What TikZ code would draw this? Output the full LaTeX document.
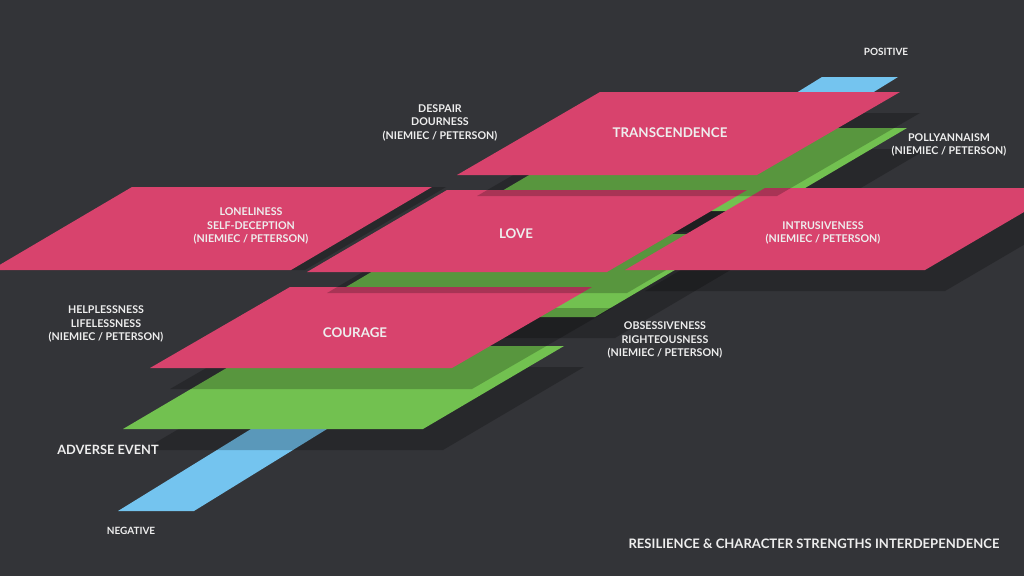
\documentclass[tikz,border=0pt]{standalone}
\usepackage{fontspec}
\setmainfont{Lato}
\definecolor{rsBack}{HTML}{333438}
\definecolor{rsPink}{HTML}{D8436D}
\definecolor{rsGreen}{HTML}{72C150}
\definecolor{rsBlue}{HTML}{74C4EF}
\definecolor{rsText}{HTML}{EEEEEE}
\tikzset{
  rsSlab/.style={
    draw=none
  },
  rsPinkSlab/.style={
    rsSlab,
    fill=rsPink
  },
  rsGreenSlab/.style={
    rsSlab,
    fill=rsGreen
  },
  rsAxisSlab/.style={
    rsSlab,
    fill=rsBlue
  },
  rsShadow/.style={
    fill=black,
    fill opacity=0.22,
    shift={(20,21)}
  },
  rsName/.style={
    text=rsText,
    inner sep=0pt,
    font=\bfseries\fontsize{10}{12}\selectfont
  },
  rsNote/.style={
    text=rsText,
    inner sep=0pt,
    align=center,
    font=\bfseries\fontsize{8}{10.1}\selectfont
  },
  rsPole/.style={
    rsNote,
    font=\bfseries\fontsize{7.5}{9}\selectfont
  }
}
% slab: style, bottom-left x, bottom y, width, top y, horizontal run
\newcommand{\rsSlab}[6]{%
  \fill[#1] (#2,#3) -- ++(#4,0) -- ++(#6,{#5-#3}) -- ++(-#4,0) -- cycle;}

\begin{document}
\begin{tikzpicture}[x=0.75pt, y=-0.75pt]
  \useasboundingbox (0,0) rectangle (1024,576);
  \clip (0,0) rectangle (1024,576);
  \fill[rsBack] (0,0) rectangle (1024,576);

  % axis from negative to positive
  \rsSlab{rsAxisSlab}{118}{511}{76}{77}{704}

  % green levels
  \rsSlab{rsShadow}{123}{429}{300}{346}{141}
  \rsSlab{rsGreenSlab}{123}{429}{300}{346}{141}
  \rsSlab{rsShadow}{295}{317}{300}{234}{141}
  \rsSlab{rsGreenSlab}{295}{317}{300}{234}{141}
  \rsSlab{rsShadow}{468}{211}{298}{128}{141}
  \rsSlab{rsGreenSlab}{468}{211}{298}{128}{141}

  % strengths
  \rsSlab{rsShadow}{150}{368}{302}{287}{140}
  \rsSlab{rsPinkSlab}{150}{368}{302}{287}{140}
  \rsSlab{rsShadow, shift={(-6,-21)}}{-9}{270}{300}{187}{141}
  \rsSlab{rsPinkSlab}{-9}{270}{300}{187}{141}
  \rsSlab{rsShadow}{307}{272}{300}{190}{140}
  \rsSlab{rsPinkSlab}{307}{272}{300}{190}{140}
  \rsSlab{rsShadow}{625}{270}{300}{188}{140}
  \rsSlab{rsPinkSlab}{625}{270}{300}{188}{140}
  \rsSlab{rsShadow}{457}{175}{300}{92}{143}
  \rsSlab{rsPinkSlab}{457}{175}{300}{92}{143}

  \node[rsName] (transcendence) at (670,133) {TRANSCENDENCE};
  \node[rsName] (love) at (516,234) {LOVE};
  \node[rsName] (courage) at (355,333) {COURAGE};

  \node[rsNote] (despair) at (440,122.5) {DESPAIR\\DOURNESS\\(NIEMIEC / PETERSON)};
  \node[rsNote] (pollyanna) at (949,145) {POLLYANNAISM\\(NIEMIEC / PETERSON)};
  \node[rsNote] (loneliness) at (251,226) {LONELINESS\\SELF-DECEPTION\\(NIEMIEC / PETERSON)};
  \node[rsNote] (intrusive) at (823,233) {INTRUSIVENESS\\(NIEMIEC / PETERSON)};
  \node[rsNote] (helpless) at (106,324) {HELPLESSNESS\\LIFELESSNESS\\(NIEMIEC / PETERSON)};
  \node[rsNote] (obsessive) at (665,340) {OBSESSIVENESS\\RIGHTEOUSNESS\\(NIEMIEC / PETERSON)};

  \node[rsPole] (positive) at (886,52) {POSITIVE};
  \node[rsPole] (negative) at (131,531) {NEGATIVE};
  \node[rsName, anchor=west, font=\bfseries\fontsize{9.6}{11}\selectfont] (adverse) at (57,450) {ADVERSE EVENT};
  \node[rsName, font=\bfseries\fontsize{9.8}{11}\selectfont] (title) at (814,544)
    {RESILIENCE \& CHARACTER STRENGTHS INTERDEPENDENCE};
\end{tikzpicture}
\end{document}
